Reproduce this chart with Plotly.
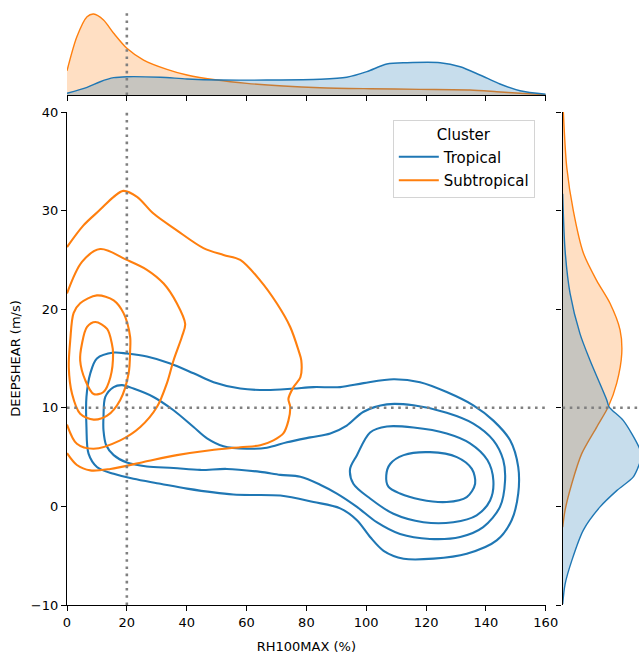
import plotly.graph_objects as go

# ---------------- data ----------------
# Bivariate KDE contour lines, Tropical cluster (outer -> inner)
trop_l1_x = [6.5, 7.8, 10, 15.6, 20, 26.7, 34.5, 42.3, 49, 57.9, 66.8, 75.7, 82.4, 91.3, 99.1, 109.1, 118, 126.9, 135.8, 142.5, 148.1, 150.8, 150.8, 148.6, 143.6, 133.6, 122.5, 112.5, 105.8, 101.3, 96.9, 91.3, 82.4, 71.3, 55.6, 40.1, 31.2, 22.2, 15.6, 10, 7.2, 6.5, 6.5]
trop_l1_y = [11.1, 13.5, 15.0, 15.6, 15.5, 15.2, 14.5, 13.5, 12.6, 11.95, 11.8, 11.95, 12.1, 12.1, 12.5, 12.9, 12.6, 11.6, 10.25, 8.7, 6.7, 4.0, 1.3, -1.4, -3.45, -4.8, -5.3, -5.3, -4.5, -3.1, -1.4, -0.2, 0.45, 1.1, 1.2, 1.8, 2.3, 2.8, 3.3, 4.0, 5.35, 8.05, 11.1]
trop_l2_x = [12.2, 12.8, 15.6, 18.4, 22.2, 28.9, 35.6, 42.3, 46.8, 52.3, 60.1, 66.8, 73.5, 81.3, 88, 93.5, 99.1, 106.9, 115.8, 126.9, 135.8, 142.5, 145.8, 146.4, 144.7, 139.1, 131.4, 121.3, 111.3, 103.5, 96.9, 90.2, 84.6, 78, 71.3, 64.6, 53.4, 44.5, 35.6, 26.7, 20, 15.6, 13.1, 12.2, 12.2]
trop_l2_y = [9.1, 11.1, 12.1, 12.3, 11.95, 11.1, 9.75, 8.05, 6.9, 6.1, 5.85, 5.95, 6.5, 7.0, 7.4, 8.2, 9.6, 10.35, 10.25, 9.5, 8.4, 6.7, 4.7, 2.6, -0.05, -2.1, -3.1, -3.3, -2.8, -1.6, -0.05, 1.3, 2.2, 3.0, 3.2, 3.5, 3.8, 3.7, 3.9, 4.05, 4.45, 5.2, 6.2, 7.7, 9.1]
trop_l3_x = [94.6, 96.9, 101.3, 106.9, 115.8, 126.9, 134.7, 140.5, 142.5, 141.4, 136.9, 129.1, 119.1, 109.1, 101.3, 95.7, 94.6]
trop_l3_y = [3.8, 5.2, 7.5, 8.1, 8.0, 7.4, 6.4, 4.7, 2.6, 0.6, -0.9, -1.6, -1.6, -0.75, 0.8, 2.3, 3.8]
trop_l4_x = [106.7, 108, 112.5, 121.3, 130.3, 135.3, 136.4, 133.6, 126.9, 118, 111.3, 107.4, 106.7]
trop_l4_y = [3.15, 4.3, 5.2, 5.5, 5.0, 3.8, 2.3, 0.95, 0.45, 0.7, 1.3, 2.0, 3.15]

# Bivariate KDE contour lines, Subtropical cluster (outer -> inner)
sub_l1_x = [0, 5.5, 11.1, 15.6, 18.8, 23.4, 28.9, 36.7, 45.6, 52.3, 57.9, 64.6, 70.1, 74.6, 77.4, 78.3, 78.0, 75.7, 74.0, 74.6, 74.0, 72.3, 69.0, 64.6, 57.9, 47.9, 36.7, 25.6, 14.5, 7.8, 3.3, 0]
sub_l1_y = [26.3, 28.5, 30.1, 31.4, 32.0, 31.4, 29.7, 28.0, 26.2, 25.5, 25.0, 22.9, 20.6, 18.2, 15.8, 14.8, 13.1, 12.1, 10.9, 10.1, 8.7, 7.4, 6.7, 6.2, 6.0, 5.7, 5.2, 4.5, 3.8, 3.65, 4.2, 5.4]
sub_l2_x = [0, 5.0, 11.1, 20, 26.7, 32.3, 36.7, 39.5, 38.4, 35.6, 33.4, 30.1, 24.5, 17.8, 8.9, 3.3, 0]
sub_l2_y = [21.6, 24.8, 26.1, 25.0, 24.0, 22.6, 20.6, 18.5, 17.2, 14.8, 12.5, 10.1, 8.05, 6.7, 5.85, 6.35, 8.3]
sub_l3_x = [0.6, 1.1, 2.2, 4.4, 10, 15.6, 18.9, 21.1, 21.1, 20.6, 17.8, 13.4, 8.9, 4.4, 1.7, 0.6]
sub_l3_y = [14.1, 16.9, 19.6, 20.6, 21.4, 20.9, 19.6, 17.2, 15.8, 13.5, 10.8, 9.2, 8.8, 9.4, 11.4, 14.1]
sub_l4_x = [4.4, 5.0, 6.7, 9.5, 13.4, 15.0, 15.4, 14.5, 12.2, 8.9, 6.1, 4.4]
sub_l4_y = [14.8, 16.5, 18.2, 18.7, 18.0, 16.5, 15.5, 13.1, 11.6, 11.4, 12.8, 14.8]

# Marginal KDE of RH100MAX (relative density)
rh_sub_x = [0, 3.3, 6.7, 8.9, 12.2, 15.6, 20, 25.6, 33.4, 40.1, 50.1, 60.1, 72.3, 84.6, 101.3, 118, 134.7, 143.6, 151.4, 160]
rh_sub_d = [0.300, 0.720, 0.967, 1.000, 0.926, 0.762, 0.577, 0.432, 0.317, 0.247, 0.185, 0.144, 0.111, 0.090, 0.078, 0.070, 0.062, 0.041, 0.021, 0.004]
rh_trop_x = [0, 6.7, 11.1, 15.6, 20, 31.2, 40.1, 51.2, 66.8, 84.6, 93.5, 100.2, 106.9, 113.6, 124.7, 131.4, 138, 144.7, 151.4, 160]
rh_trop_d = [0.021, 0.095, 0.164, 0.214, 0.226, 0.219, 0.198, 0.185, 0.185, 0.194, 0.219, 0.288, 0.383, 0.399, 0.399, 0.349, 0.247, 0.136, 0.053, 0.009]

# Marginal KDE of DEEPSHEAR (relative density)
sh_sub_y = [40.0, 34.4, 30.0, 25.7, 22.9, 20.6, 17.9, 15.5, 12.5, 10.1, 8.05, 5.35, 2.3, -0.4, -2.1]
sh_sub_d = [0.010, 0.052, 0.133, 0.257, 0.422, 0.586, 0.710, 0.731, 0.669, 0.565, 0.422, 0.237, 0.114, 0.031, 0.002]
sh_trop_y = [31.7, 26, 21.6, 17.5, 14.8, 10.8, 10.1, 8.7, 6.0, 5.1, 4.2, 3.0, 1.6, -0.05, -2.4, -5.5, -7.9, -9.9]
sh_trop_d = [0.002, 0.031, 0.093, 0.216, 0.340, 0.546, 0.574, 0.751, 0.944, 0.975, 0.944, 0.874, 0.669, 0.463, 0.257, 0.114, 0.031, 0.002]

x_ticks = [0, 20, 40, 60, 80, 100, 120, 140, 160]
y_ticks = [-10, 0, 10, 20, 30, 40]
thr_rh = 20
thr_shear = 10

# ---------------- styling ----------------
BLUE = "#1f77b4"
ORANGE = "#ff7f0e"
BLUE_FILL = "rgba(31,119,180,0.25)"
ORANGE_FILL = "rgba(255,127,14,0.25)"
FONT = "DejaVu Sans"

fig = go.Figure()

trop = [(trop_l1_x, trop_l1_y), (trop_l2_x, trop_l2_y), (trop_l3_x, trop_l3_y), (trop_l4_x, trop_l4_y)]
sub = [(sub_l1_x, sub_l1_y), (sub_l2_x, sub_l2_y), (sub_l3_x, sub_l3_y), (sub_l4_x, sub_l4_y)]

for name, color, sets in [("Tropical", BLUE, trop), ("Subtropical", ORANGE, sub)]:
    for i, (xs, ys) in enumerate(sets):
        fig.add_trace(go.Scatter(
            x=xs, y=ys, mode="lines", name=name, legendgroup=name,
            showlegend=(i == 0), hoverinfo="skip",
            line=dict(color=color, width=2.1, shape="spline", smoothing=0.9),
            xaxis="x", yaxis="y"))

# top marginal (Subtropical first, Tropical on top)
fig.add_trace(go.Scatter(x=rh_sub_x, y=rh_sub_d, mode="lines", fill="tozeroy",
                         fillcolor=ORANGE_FILL, showlegend=False, hoverinfo="skip",
                         line=dict(color=ORANGE, width=1.4, shape="spline", smoothing=0.8),
                         xaxis="x2", yaxis="y2"))
fig.add_trace(go.Scatter(x=rh_trop_x, y=rh_trop_d, mode="lines", fill="tozeroy",
                         fillcolor=BLUE_FILL, showlegend=False, hoverinfo="skip",
                         line=dict(color=BLUE, width=1.4, shape="spline", smoothing=0.8),
                         xaxis="x2", yaxis="y2"))
# right marginal
fig.add_trace(go.Scatter(x=sh_sub_d, y=sh_sub_y, mode="lines", fill="tozerox",
                         fillcolor=ORANGE_FILL, showlegend=False, hoverinfo="skip",
                         line=dict(color=ORANGE, width=1.4, shape="spline", smoothing=0.8),
                         xaxis="x3", yaxis="y3"))
fig.add_trace(go.Scatter(x=sh_trop_d, y=sh_trop_y, mode="lines", fill="tozerox",
                         fillcolor=BLUE_FILL, showlegend=False, hoverinfo="skip",
                         line=dict(color=BLUE, width=1.4, shape="spline", smoothing=0.8),
                         xaxis="x3", yaxis="y3"))

# threshold dotted lines
dot = dict(color="#808080", width=2.6, dash="2.6px,4.6px")
fig.add_shape(type="line", xref="x", yref="y domain", x0=thr_rh, x1=thr_rh, y0=0, y1=1, line=dot)
fig.add_shape(type="line", xref="x2", yref="y2 domain", x0=thr_rh, x1=thr_rh, y0=0, y1=1, line=dot)
fig.add_shape(type="line", xref="x domain", yref="y", x0=0, x1=1, y0=thr_shear, y1=thr_shear, line=dot)
fig.add_shape(type="line", xref="x3 domain", yref="y3", x0=0, x1=1, y0=thr_shear, y1=thr_shear, line=dot)

ax_common = dict(showgrid=False, zeroline=False, showline=True, linecolor="black",
                 linewidth=1.3, ticks="outside", ticklen=5, tickwidth=1.2,
                 tickcolor="black", automargin=False,
                 tickfont=dict(family=FONT, size=13, color="black"))

main_x_dom = [0, 0.83697]
main_y_dom = [0, 0.82718]

fig.update_layout(
    width=639, height=656,
    margin=dict(l=66.7, r=0, t=9, b=51, pad=0),
    paper_bgcolor="white", plot_bgcolor="white",
    font=dict(family=FONT, size=13, color="black"),
    xaxis=dict(domain=main_x_dom, range=[0, 160], tickvals=x_ticks, anchor="y",
               title=dict(text="RH100MAX (%)", standoff=13,
                          font=dict(family=FONT, size=13, color="black")),
               **ax_common),
    yaxis=dict(domain=main_y_dom, range=[-10, 40], tickvals=y_ticks, anchor="x",
               title=dict(text="DEEPSHEAR (m/s)", standoff=7,
                          font=dict(family=FONT, size=13, color="black")),
               **ax_common),
    xaxis2=dict(domain=main_x_dom, range=[0, 160], tickvals=x_ticks, anchor="y2",
                showticklabels=False, **ax_common),
    yaxis2=dict(domain=[0.8557, 1.0], range=[0, 1.062], anchor="x2", visible=False),
    xaxis3=dict(domain=[0.86633, 1.0], range=[0, 0.944], anchor="y3", visible=False),
    yaxis3=dict(domain=main_y_dom, range=[-10, 40], tickvals=y_ticks, anchor="x3",
                showticklabels=False, **ax_common),
    legend=dict(x=0.5696, y=0.8138, xanchor="left", yanchor="top",
                bgcolor="rgba(255,255,255,0.85)", bordercolor="#d4d4d4", borderwidth=1,
                font=dict(family=FONT, size=15, color="black"),
                title=dict(text="Cluster", side="top center",
                           font=dict(family=FONT, size=15, color="black")),
                itemwidth=40, tracegroupgap=1),
    showlegend=True,
)

fig.write_html("out.html")
